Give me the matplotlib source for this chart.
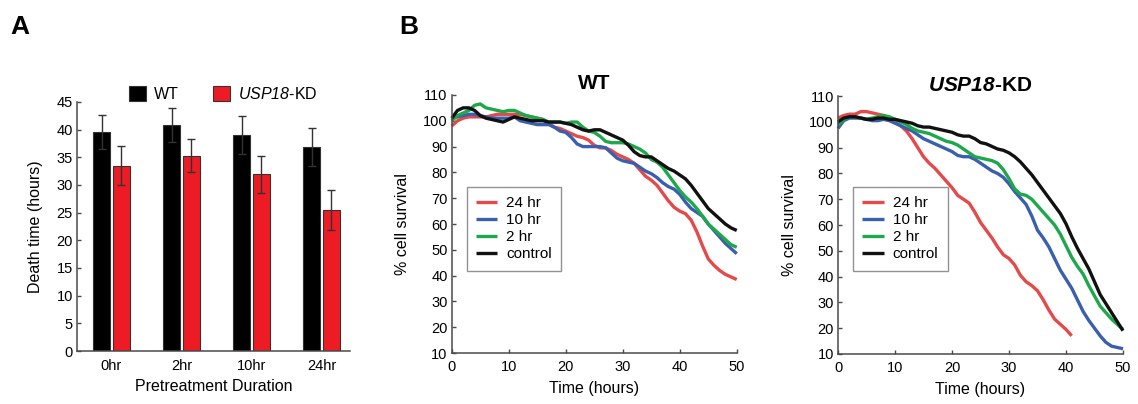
import matplotlib
matplotlib.use("Agg")
import matplotlib.pyplot as plt
import numpy as np

plt.rcParams["font.family"] = ["Liberation Sans", "DejaVu Sans"]
plt.rcParams["mathtext.fontset"] = "custom"
plt.rcParams["mathtext.rm"] = "Liberation Sans"
plt.rcParams["mathtext.it"] = "Liberation Sans:italic"
plt.rcParams["mathtext.bf"] = "Liberation Sans:bold"
plt.rcParams["mathtext.bfit"] = "Liberation Sans:italic:bold"
# \mathit keeps digits upright, so use sf slot for an all-italic gene name
plt.rcParams["mathtext.sf"] = "Liberation Sans:italic"

# panel A: death time per pretreatment
durations = ["0hr", "2hr", "10hr", "24hr"]
wt_death = [39.5, 40.8, 39.0, 36.8]
wt_err = [3.1, 3.0, 3.4, 3.4]
kd_death = [33.5, 35.3, 31.9, 25.4]
kd_err = [3.5, 2.9, 3.3, 3.6]

# panel B: survival curves, hourly
time_h = list(range(0, 51))
wt_control = [101, 104, 105, 105, 104, 102, 101, 100.5, 100, 99.5,
              100.5, 101.5, 101, 100.5, 100, 100, 100, 99.5, 99.5, 99.5,
              99, 98.5, 97.5, 96.5, 96, 96.5, 96.5, 95.5, 94.5, 93.5,
              92.5, 90.5, 88, 86.5, 86, 86, 84.5, 83, 81.5, 80.5,
              79, 77.5, 75, 72, 69, 66, 64, 62, 60, 58.5, 57.5]
wt_2hr = [100, 102, 103, 104, 106, 106.5, 105, 104.5, 104, 103.5,
          104, 104, 103, 102, 101.5, 101, 100.5, 99.5, 99.5, 99.5,
          99, 99.5, 99.5, 97.5, 96, 95.5, 94, 92, 91.5, 91.5,
          91.5, 91, 90, 89, 87.5, 85, 84, 82, 79, 76,
          73, 70.5, 68.5, 66, 63, 60, 58, 56, 54, 52, 51]
wt_10hr = [101, 101.5, 102, 102.5, 102.5, 102, 101.5, 101, 101, 101,
           101, 101.5, 100, 99.5, 99, 98.5, 98.5, 98.5, 97.5, 96,
           95.5, 93.5, 91, 90, 90, 90, 90, 89.5, 87.5, 85.5,
           84.5, 84, 83.5, 82, 80.5, 79.5, 78, 76, 74.5, 73.5,
           71.5, 68.5, 66, 64.5, 63, 60, 57.5, 55, 52.5, 50.5, 48.5]
wt_24hr = [98, 100, 101, 101.5, 101.5, 101.5, 101.5, 102, 102.5, 102.5,
           102.5, 102.5, 102.5, 102, 101.5, 101, 100.5, 99, 97.5, 97,
           96, 95, 94, 93.5, 92.5, 90.5, 89.5, 89.5, 88.5, 87,
           86, 85, 83.5, 81, 78.5, 77, 75, 72, 69, 66.5,
           65, 64, 61.5, 57, 51.5, 46.5, 44, 42, 40.5, 39.5, 38.5]

kd_control = [100, 101.5, 102, 102, 101.5, 101, 101, 101.5, 101.5, 101,
              101, 100.5, 100, 99.5, 98.5, 98, 98, 97.5, 97, 96.5,
              96, 95, 94.5, 94.5, 93.5, 92, 91.5, 90.5, 89.5, 89,
              88, 86.5, 84.5, 82, 79.5, 76.5, 73.5, 70.5, 67.5, 64.5,
              60.5, 55.5, 51, 47, 43, 38, 33, 29.5, 26, 22.5, 19]
kd_2hr = [99, 101, 102, 102, 101.5, 101, 101.5, 102, 102.5, 102,
          101, 100, 99, 97.5, 96.5, 96, 95.5, 94.5, 93.5, 92.5,
          92, 91, 89.5, 88, 86.5, 86, 85.5, 85, 84, 81.5,
          78, 74, 72, 71.5, 70, 67.5, 65, 62.5, 60, 56.5,
          52, 47.5, 44, 41, 36.5, 32.5, 28.5, 26, 23.5, 21.5, 19.5]
kd_10hr = [97.5, 100.5, 101.5, 101.5, 101.5, 101, 100.5, 100.5, 101, 100.5,
           99.5, 98.5, 97.5, 96.5, 95, 93.5, 92.5, 91.5, 90.5, 89.5,
           88.5, 87, 86.5, 86.5, 85.5, 84, 82.5, 81, 80, 78.5,
           76, 73, 70.5, 68, 63.5, 58, 55, 51.5, 47, 42.5,
           39, 35.5, 31, 26.5, 23, 20, 17, 14.5, 13, 12.5, 12]
kd_24hr = [101.5, 102.5, 103, 103, 104, 104, 103.5, 103, 102.5, 101.5,
           100, 98.5, 96.5, 93.5, 90, 86.5, 84, 82, 79.5, 77,
           74.5, 71.5, 70, 68.5, 65, 61, 58, 55, 51.5, 48.5,
           47, 44.5, 40.5, 38, 36.5, 34.5, 31, 27, 23.5, 21.5,
           19.5, 17]

series_labels = ["24 hr", "10 hr", "2 hr", "control"]
series_colors = ["#e54a4a", "#3a5fae", "#1ea84c", "#111111"]

SPINE = "#4a4a4a"


def style_axes(ax):
    for side in ("top", "right"):
        ax.spines[side].set_visible(False)
    for side in ("left", "bottom"):
        ax.spines[side].set_color(SPINE)
        ax.spines[side].set_linewidth(1.1)
    ax.tick_params(direction="in", length=3, width=1, color=SPINE, labelsize=10.5, pad=3)


fig = plt.figure(figsize=(11.38, 4.04), dpi=100)

# ---- panel A
ax_a = fig.add_axes([0.0677, 0.131, 0.240, 0.617])
x = np.arange(len(durations))
bw = 0.245
ekw = dict(ecolor="#333333", elinewidth=1.0, capsize=3, capthick=1.0)
ax_a.bar(x - 0.14, wt_death, bw, yerr=wt_err, color="black", edgecolor="#333333",
         linewidth=0.8, error_kw=ekw, label="WT")
ax_a.bar(x + 0.14, kd_death, bw, yerr=kd_err, color="#ed1c24", edgecolor="#333333",
         linewidth=0.8, error_kw=ekw, label=r"$\mathsf{USP18}$-KD")
ax_a.set_xlim(-0.49, 3.41)
ax_a.set_ylim(0, 45)
ax_a.set_yticks(np.arange(0, 46, 5))
ax_a.set_xticks(x)
ax_a.set_xticklabels(durations)
style_axes(ax_a)
ax_a.tick_params(axis="x", length=0, pad=6)
ax_a.set_ylabel("Death time (hours)", fontsize=11.5, labelpad=10)
ax_a.set_xlabel("Pretreatment Duration", fontsize=11.5, labelpad=4)
fig.legend(*ax_a.get_legend_handles_labels(), loc="center", bbox_to_anchor=(0.196, 0.767),
           ncol=2, frameon=False, fontsize=11.5, handlelength=1.1, handleheight=1.1,
           columnspacing=2.1, handletextpad=0.5)

# ---- panel B
curve_sets = [
    ("WT", [wt_24hr, wt_10hr, wt_2hr, wt_control], [0.397, 0.126, 0.2504, 0.639], 0.410),
    (r"$\mathbfit{USP18}$-KD", [kd_24hr, kd_10hr, kd_2hr, kd_control],
     [0.7364, 0.124, 0.2504, 0.638], 0.7496),
]
for title, curves, rect, leg_x in curve_sets:
    ax = fig.add_axes(rect)
    for values, lab, col in zip(curves, series_labels, series_colors):
        ax.plot(time_h[: len(values)], values, color=col, lw=2.4, label=lab,
                solid_capstyle="butt", clip_on=False)
    ax.set_xlim(0, 50)
    ax.set_ylim(10, 110)
    ax.set_xticks(np.arange(0, 51, 10))
    ax.set_yticks(np.arange(10, 111, 10))
    style_axes(ax)
    ax.tick_params(axis="x", pad=5)
    ax.set_xlabel("Time (hours)", fontsize=11.5, labelpad=5)
    ax.set_ylabel("% cell survival", fontsize=11.5, labelpad=9)
    ax.set_title(title, fontsize=15, fontweight="bold", pad=4)
    leg = ax.legend(loc="upper left", bbox_to_anchor=(leg_x, 0.537),
                    bbox_transform=fig.transFigure, fontsize=11, frameon=True,
                    fancybox=False, handlelength=1.4, handletextpad=0.6,
                    labelspacing=0.2, borderpad=0.6, borderaxespad=0)
    leg.get_frame().set_edgecolor("#777777")
    leg.get_frame().set_linewidth(1.0)

fig.text(0.009, 0.915, "A", fontsize=19, fontweight="bold")
fig.text(0.351, 0.915, "B", fontsize=19, fontweight="bold")

fig.savefig("out.png", dpi=100)
